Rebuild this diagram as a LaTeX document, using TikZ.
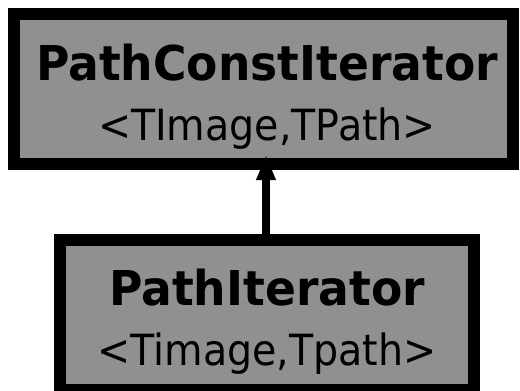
\documentclass[tikz,border=0pt]{standalone}
\usepackage{fontspec}
\setmainfont{DejaVu Sans}
\usetikzlibrary{arrows.meta}
\definecolor{boxgray}{RGB}{144,144,144}
\tikzset{
  classbox/.style={draw=black, fill=boxgray, line width=12pt, inner sep=0pt},
  titletext/.style={anchor=base, inner sep=0pt, font=\fontsize{48}{50}\selectfont\bfseries},
  paramtext/.style={anchor=base, inner sep=0pt, font=\fontsize{43}{45}\selectfont},
  inherit/.style={line width=8pt, -{Triangle[width=18pt,length=25pt]}, shorten >=-15pt}
}
\begin{document}
\begin{tikzpicture}[x=1pt,y=-1pt]
\useasboundingbox (0,0) rectangle (520,391);
\node[classbox, minimum width=499pt, minimum height=150pt] (pci) at (263.5,89) {};
\node[classbox, minimum width=414pt, minimum height=150pt] (pi) at (267,314.5) {};
\node[titletext] (pcit) at (267,80) {\scalebox{0.95}[1]{PathConstIterator}};
\node[paramtext] (pcip) at (267,140) {\scalebox{0.92}[1]{<TImage,TPath>}};
\node[titletext] (pit) at (267,305) {\scalebox{0.95}[1]{PathIterator}};
\node[paramtext] (pip) at (267,365) {\scalebox{0.92}[1]{<Timage,Tpath>}};
\draw[inherit] (pi.north -| 266,0) -- (pci.south -| 266,0);
\end{tikzpicture}
\end{document}
